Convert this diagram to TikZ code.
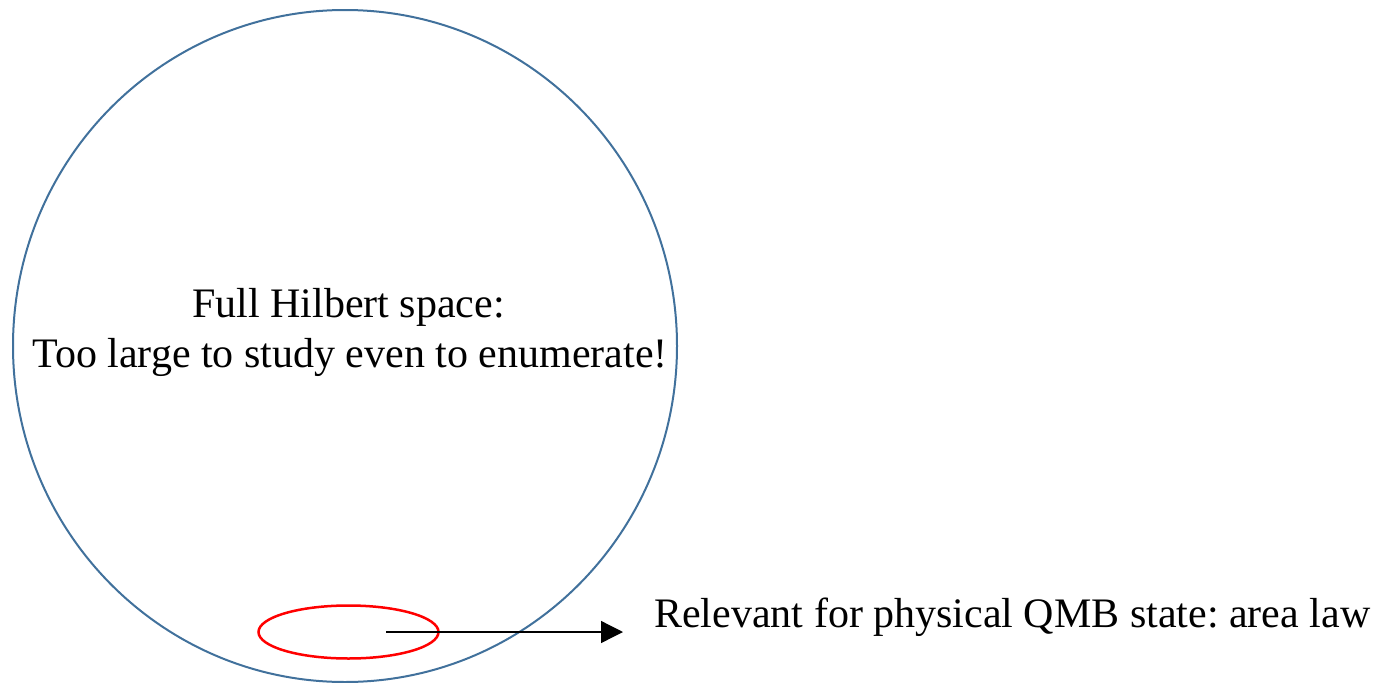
\documentclass[tikz,border=0pt]{standalone}
\usepackage{fontspec}
\setmainfont{Liberation Serif}
\usetikzlibrary{arrows.meta}
\definecolor{hblue}{HTML}{41719C}
\tikzset{
  bigtext/.style={font=\fontsize{42}{50}\selectfont\frenchspacing, inner sep=0pt, anchor=base},
  hilbert/.style={draw=hblue, line width=2pt},
  physset/.style={draw=red, line width=2.5pt},
  pointer/.style={draw=black, line width=1.3pt, -{Triangle[length=22pt,width=22pt]}}
}
\begin{document}
\begin{tikzpicture}[x=1pt,y=-1pt]
\useasboundingbox (0,0) rectangle (1377,683);
\draw[hilbert] (345,346) ellipse [x radius=332, y radius=336];
\node[bigtext] (l1) at (348.5,317) {Full Hilbert space:};
\node[bigtext] (l2) at (350,367) {Too large to study even to enumerate!};
\draw[physset] (348.5,632) ellipse [x radius=90, y radius=26.5];
\coordinate (s) at (386,632);
\coordinate (e) at (623,632);
\draw[pointer] (s) -- (e);
\node[bigtext, anchor=base west] (lab) at (654,627) {Relevant for physical QMB state: area law};
\end{tikzpicture}
\end{document}
